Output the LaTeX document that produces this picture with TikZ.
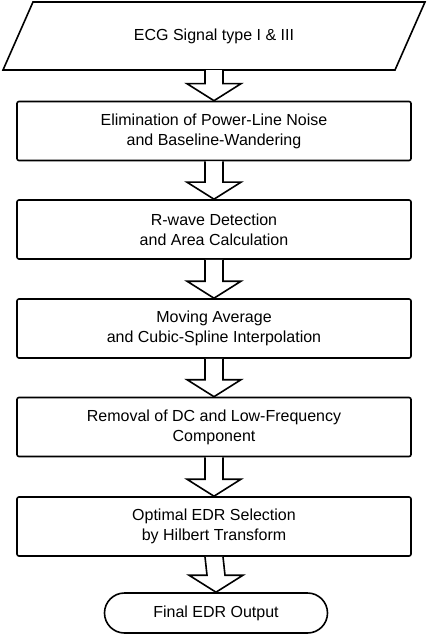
\documentclass[tikz,border=0pt]{standalone}
\usepackage{fontspec}
\setmainfont{Liberation Sans}
\usetikzlibrary{calc,shapes.misc}
\tikzset{
  stepbox/.style={draw=black, line width=1.6pt, rounded corners=2pt, fill=white,
    minimum width=394pt, minimum height=59pt, align=center, inner sep=0pt,
    font=\fontsize{16}{20}\selectfont},
  terminal/.style={draw=black, line width=1.6pt, rounded rectangle, fill=white,
    minimum width=223pt, minimum height=40pt, inner sep=0pt,
    font=\fontsize{16}{20}\selectfont},
  plaintext/.style={inner sep=0pt, font=\fontsize{16}{20}\selectfont},
  fat/.style={draw=black, line width=1.6pt, fill=white, line join=miter},
}
\newcommand\fatarrow[2]{%
  \draw[fat] ($(#1.south)+(-9,0)$) -- ($(#2.north)+(-9,-17)$) -- ($(#2.north)+(-27,-17)$)
    -- (#2.north) -- ($(#2.north)+(27,-17)$) -- ($(#2.north)+(9,-17)$) -- ($(#1.south)+(9,0)$);}
\begin{document}
\begin{tikzpicture}[x=1pt,y=-1pt]
\useasboundingbox (0,0) rectangle (430,636);
% input parallelogram
\node[plaintext, minimum width=392pt, minimum height=68pt] (input) at (214,36) {ECG Signal type I \& III};
\draw[line width=1.6pt, line join=miter] (33,2) -- (425,2) -- (395,70) -- (3,70) -- cycle;
\node[stepbox] (s1) at (214,131) {Elimination of Power-Line Noise\\and Baseline-Wandering};
\node[stepbox] (s2) at (214,229.5) {R-wave Detection\\and Area Calculation};
\node[stepbox] (s3) at (214,328.5) {Moving Average\\and Cubic-Spline Interpolation};
\node[stepbox] (s4) at (214,427) {Removal of DC and Low-Frequency\\Component};
\node[stepbox] (s5) at (214,526.5) {Optimal EDR Selection\\by Hilbert Transform};
\node[terminal] (out) at (216,613) {Final EDR Output};
\fatarrow{input}{s1}
\fatarrow{s1}{s2}
\fatarrow{s2}{s3}
\fatarrow{s3}{s4}
\fatarrow{s4}{s5}
\fatarrow{s5}{out}
\end{tikzpicture}
\end{document}
